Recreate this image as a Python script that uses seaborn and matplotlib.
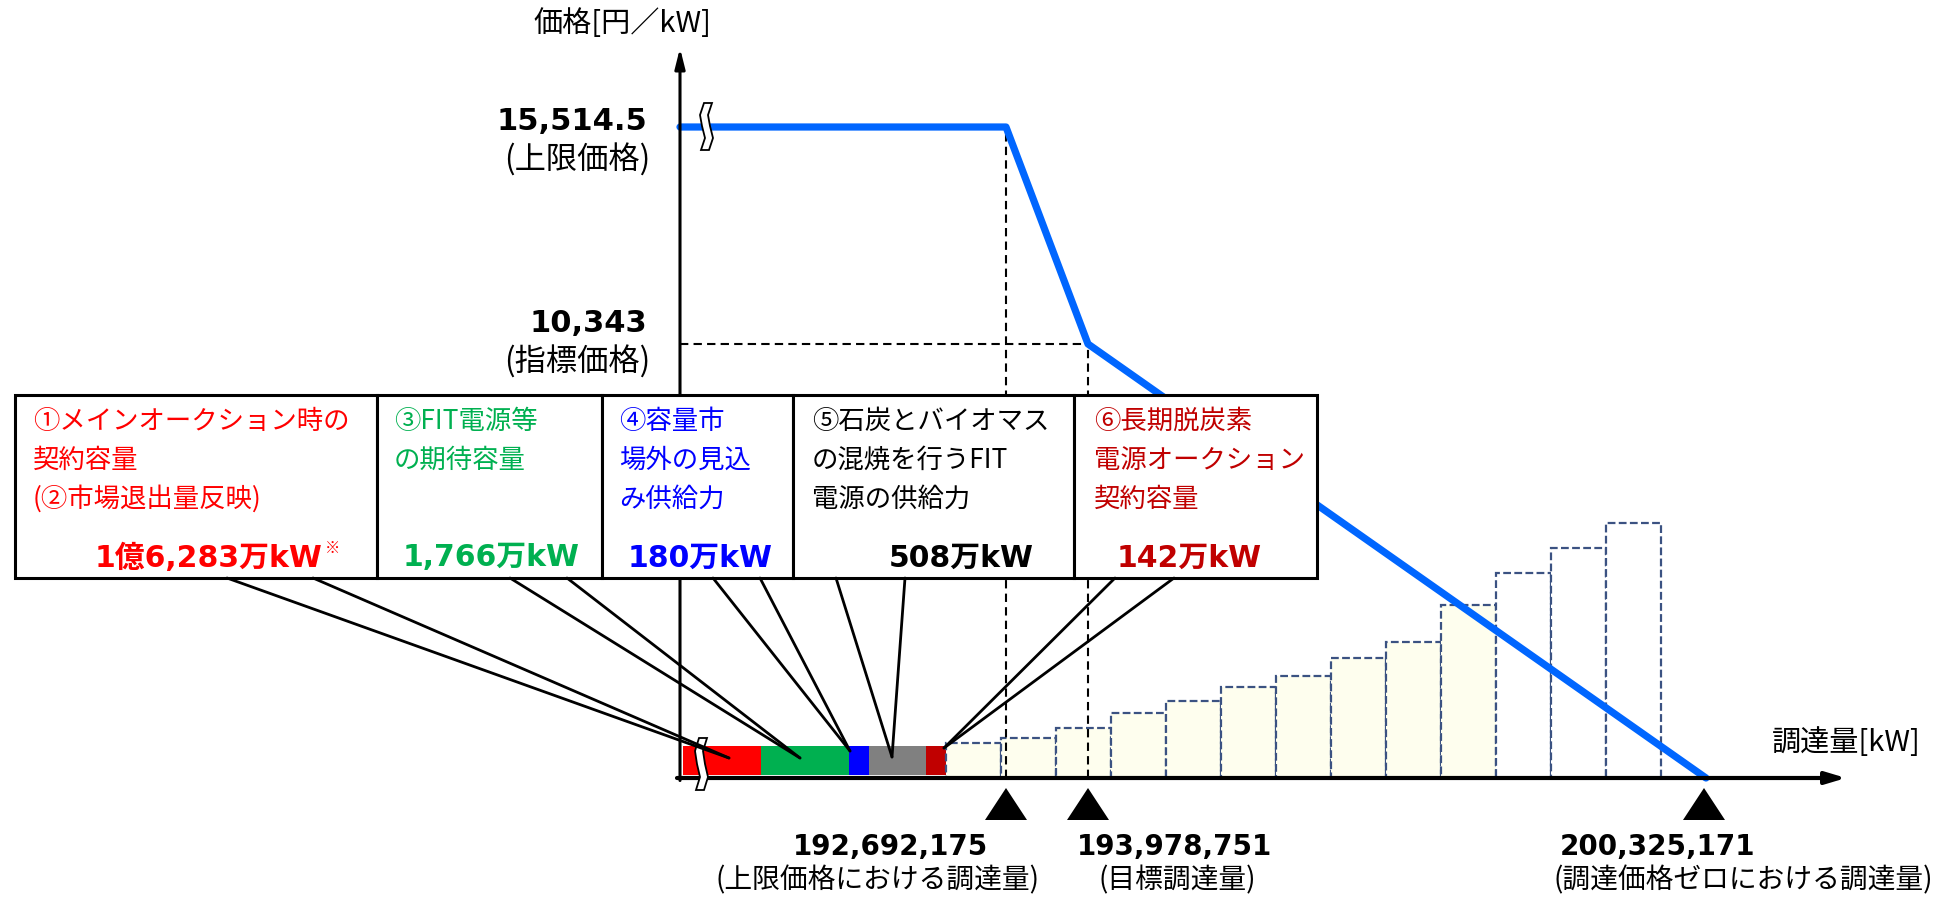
import numpy as np
import matplotlib
matplotlib.use("Agg")
import matplotlib.pyplot as plt
import seaborn as sns
from matplotlib.patches import Rectangle

# ---------------- data ----------------
price_levels = [15514.5, 10343]
price_labels = ["15,514.5", "10,343"]
price_notes = ["(上限価格)", "(指標価格)"]

quantity_labels = ["192,692,175", "193,978,751", "200,325,171"]
quantity_notes = ["(上限価格における調達量)", "(目標調達量)", "(調達価格ゼロにおける調達量)"]
# schematic position on the (broken) kW axis
quantity_pos = [326, 408, 1024]

# demand curve: schematic quantity vs price [円/kW]
curve_x = [0, 326, 408, 1026]
curve_y = [15514.5, 15514.5, 10343, 0]

# capacity already secured (strip on the axis)
supply_text = [
    ["①メインオークション時の", "契約容量", "(②市場退出量反映)"],
    ["③FIT電源等", "の期待容量"],
    ["④容量市", "場外の見込", "み供給力"],
    ["⑤石炭とバイオマス", "の混焼を行うFIT", "電源の供給力"],
    ["⑥長期脱炭素", "電源オークション", "契約容量"],
]
supply_values = ["1億6,283万kW", "1,766万kW", "180万kW", "508万kW", "142万kW"]
supply_span = [78, 88, 20, 57, 20]
supply_colors = ["#FF0000", "#00B050", "#0000FF", "#808080", "#C00000"]
text_colors = ["#FF0000", "#00B050", "#0000FF", "#000000", "#C00000"]

# bid blocks [円/kW]
block_heights = [830, 950, 1190, 1550, 1830, 2170, 2430, 2860, 3240, 4120, 4880, 5480, 6080]
block_filled = [True, True, True, True, True, True, True, True, True, True, False, False, False]

# ---------------- layout helpers ----------------
W, H = 1946, 897
X0, Y0 = 680, 778                 # pixel position of the origin
K = (Y0 - 127) / 15514.5          # pixels per 円/kW


def D(px, py):
    """pixel position (top-left origin) -> data coords"""
    return px - X0, (Y0 - py) / K


sns.set_theme(style="white")
plt.rcParams["font.family"] = ["Noto Sans CJK JP", "DejaVu Sans"]
plt.rcParams["text.color"] = "black"
BOLD = ["DejaVu Sans", "Noto Sans CJK JP"]

fig = plt.figure(figsize=(W / 100, H / 100), dpi=100)
ax = fig.add_axes([0, 0, 1, 1])
ax.set_xlim(-X0, W - X0)
ax.set_ylim(-(H - Y0) / K, Y0 / K)
ax.axis("off")

# secured capacity strip
seg_left = 3 + np.concatenate([[0], np.cumsum(supply_span)[:-1]])
ax.bar(seg_left, 700, width=supply_span, bottom=60, align="edge",
       color=supply_colors, linewidth=0, zorder=2)

# bid blocks
block_w = 55
block_left = seg_left[-1] + supply_span[-1] + block_w * np.arange(len(block_heights))
for x, h, f in zip(block_left, block_heights, block_filled):
    ax.bar(x, h, width=block_w, align="edge", facecolor="#FEFEEE" if f else "white",
           edgecolor="#3B5282", linestyle=(0, (3.5, 1.5)), linewidth=1.6, zorder=2)

# dashed guide lines
guide = dict(color="black", lw=1.5, ls=(0, (4, 2.5)), zorder=3)
ax.plot([curve_x[1], curve_x[1]], [0, curve_y[1]], **guide)
ax.plot([0, curve_x[2]], [curve_y[2], curve_y[2]], **guide)
ax.plot([curve_x[2], curve_x[2]], [0, curve_y[2]], **guide)

# demand curve
sns.lineplot(x=curve_x, y=curve_y, color="#0066FF", lw=5.2, ax=ax, zorder=4)

# axes with arrows
ax.annotate("", xy=D(680, 48), xytext=(0, -60),
            arrowprops=dict(arrowstyle="-|>,head_width=0.25,head_length=1.0", lw=2.2,
                            color="black", shrinkA=0, shrinkB=0), zorder=5)
ax.annotate("", xy=D(1846, 778), xytext=(-3, 0),
            arrowprops=dict(arrowstyle="-|>,head_width=0.3,head_length=1.0", lw=3,
                            color="black", shrinkA=0, shrinkB=0), zorder=5)

# axis break marks (white band with thin outline)
for centre in ([(708, 103), (704, 115), (706, 126), (709, 138), (705, 150)],
               [(703, 738), (699, 751), (701, 764), (704, 777), (700, 790)]):
    left = [D(px - 4, py) for px, py in centre]
    right = [D(px + 4, py) for px, py in centre[::-1]]
    xs, ys = zip(*(left + right))
    ax.fill(xs, ys, facecolor="white", edgecolor="black", lw=1.3, zorder=6)

# triangles under the quantity axis
_, apex = D(0, 788)
_, base = D(0, 820)
for q in quantity_pos:
    ax.fill([q - 21, q, q + 21], [base, apex, base], color="black", zorder=5, lw=0)

# axis titles
ax.text(*D(622, 24), "価格[円／kW]", fontsize=21, ha="center", va="center")
ax.text(*D(1846, 743), "調達量[kW]", fontsize=21, ha="center", va="center")

# price tick labels
for p, lab, note, dy1, dy2 in zip(price_levels, price_labels, price_notes, [-5, -20], [33, 18]):
    py = Y0 - p * K
    ax.text(*D(647, py + dy1), lab, fontsize=22, fontweight="bold", family=BOLD,
            ha="right", va="center")
    ax.text(*D(650, py + dy2), note, fontsize=22.5, ha="right", va="center")

# quantity tick labels
label_cx = [890, 1175, 1658]
note_cx = [877, 1177, 1743]
for lab, note, cx, nx in zip(quantity_labels, quantity_notes, label_cx, note_cx):
    ax.text(*D(cx, 847), lab, fontsize=20, fontweight="bold", family=BOLD,
            ha="center", va="center")
    ax.text(*D(nx, 880), note, fontsize=20, ha="center", va="center")

# callout boxes
box_edges = [15, 377, 602, 793, 1074, 1317]
box_top, box_bot = 395, 578
text_left = [33, 394, 619, 812, 1094]
value_cx = [None, 491, 700, 961, 1189]
wedge_base = [(227, 313), (510, 567), (713, 760), (836, 905), (1115, 1174)]
wedge_tip = [(729, 758), (800, 758), (850, 751), (892, 757), (944, 748)]

for i in range(5):
    x0, y0 = D(box_edges[i], box_bot)
    x1, y1 = D(box_edges[i + 1], box_top)
    ax.add_patch(Rectangle((x0, y0), x1 - x0, y1 - y0, facecolor="white",
                           edgecolor="black", lw=2.2, zorder=7))
    for j, line in enumerate(supply_text[i]):
        ax.text(*D(text_left[i], 421 + 39 * j), line, fontsize=19,
                color=text_colors[i], ha="left", va="center", zorder=8)
    if i == 0:
        ax.text(*D(323, 558), supply_values[i], fontsize=21.5, fontweight="bold",
                family=BOLD, color=text_colors[i], ha="right", va="center", zorder=8)
        ax.text(*D(325, 548), "※", fontsize=11, color=text_colors[i],
                ha="left", va="center", zorder=8)
    else:
        ax.text(*D(value_cx[i], 558), supply_values[i], fontsize=21.5, fontweight="bold",
                family=BOLD, color=text_colors[i], ha="center", va="center", zorder=8)
    tx, ty = D(*wedge_tip[i])
    for bx in wedge_base[i]:
        bx_, by_ = D(bx, box_bot)
        ax.plot([bx_, tx], [by_, ty], color="black", lw=2, zorder=8)

fig.savefig("out.png", dpi=100)
plt.close(fig)
